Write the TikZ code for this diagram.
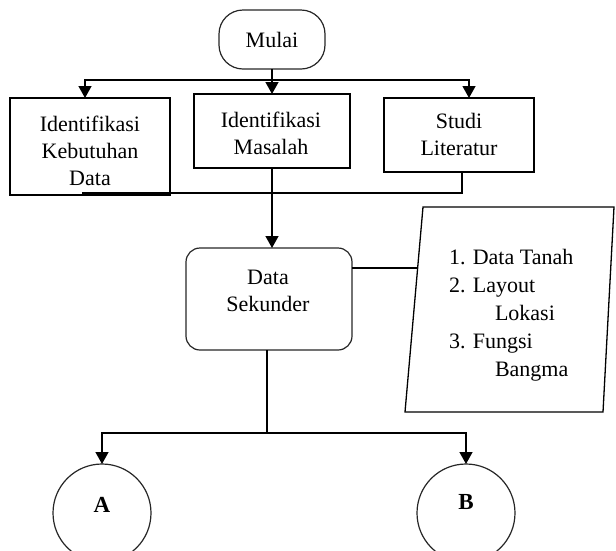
\documentclass[tikz,border=0pt]{standalone}
\usepackage{fontspec}
\setmainfont{Liberation Serif}
\usetikzlibrary{arrows.meta,calc}
\begin{document}
\begin{tikzpicture}[x=1pt,y=-1pt,
  every node/.style={inner sep=0pt,outer sep=0pt},
  txt/.style={font=\fontsize{22}{27}\selectfont,align=center},
  boxrect/.style={draw,line width=1.3pt},
  rbox/.style={draw,line width=1.2pt,draw=black!85},
  arr/.style={line width=1.3pt,-{Triangle[width=13pt,length=12pt]}},
  ln/.style={line width=1.3pt}]
\useasboundingbox (0,0) rectangle (616,550);
\clip (0,0) rectangle (616,550);
% nodes
\node[rbox,rounded corners=24pt,minimum width=106pt,minimum height=59pt,txt] (mulai) at (272,39.5) {Mulai};
\node[boxrect,minimum width=160pt,minimum height=97pt] (ikd) at (90,146.5) {};
\node[txt] (ikdt) at (90,151) {Identifikasi\\Kebutuhan\\Data};
\node[boxrect,minimum width=156pt,minimum height=74pt] (ima) at (272,131) {};
\node[txt] (imat) at (271,133) {Identifikasi\\Masalah};
\node[boxrect,minimum width=150pt,minimum height=74pt] (sl) at (459,135) {};
\node[txt] (slt) at (459,134) {Studi\\Literatur};
\node[rbox,rounded corners=14pt,minimum width=166pt,minimum height=102pt] (ds) at (269,299) {};
\node[txt] (dst) at (268,291) {Data\\Sekunder};
\node[draw,circle,line width=1.2pt,draw=black!85,minimum size=98pt] (A) at (102,513) {};
\node[font=\fontsize{23}{27}\selectfont\bfseries] (At) at (102,505) {A};
\node[draw,circle,line width=1.2pt,draw=black!85,minimum size=98pt] (B) at (466,513) {};
\node[font=\fontsize{23}{27}\selectfont\bfseries] (Bt) at (466,502) {B};
% parallelogram
\coordinate (p1) at (423,207);
\coordinate (p2) at (614,207);
\coordinate (p3) at (603,412);
\coordinate (p4) at (405,412);
\draw[ln] (p1) -- (p2) -- (p3) -- (p4) -- cycle;
\node[anchor=north west,align=left,font=\fontsize{22}{28}\selectfont] (plist) at (449,249)
 {1. Data Tanah\\2. Layout\\\hspace*{46pt}Lokasi\\3. Fungsi\\\hspace*{46pt}Bangma};
% connectors
\coordinate (b1) at (272,80);
\coordinate (tl) at (85,0);
\coordinate (tr) at (469,0);
\draw[ln] (mulai.south) -- (b1);
\draw[arr] (b1) -| (ikd.north -| tl);
\draw[arr] (b1) -| (sl.north -| tr);
\draw[arr] (mulai.south) -- (ima.north);
\coordinate (m1) at (462,193);
\coordinate (m2) at (82,193);
\draw[ln] (sl.south -| m1) -- (m1) -- (m2);
\draw[arr] (ima.south) -- (ima.south |- ds.north);
\coordinate (pl) at (417.6,268);
\draw[ln] (pl -| ds.east) -- (pl);
\coordinate (b2) at (267,433);
\draw[ln] (ds.south -| b2) -- (b2);
\draw[arr] (b2) -| (A.north);
\draw[arr] (b2) -| (B.north);
\end{tikzpicture}
\end{document}
